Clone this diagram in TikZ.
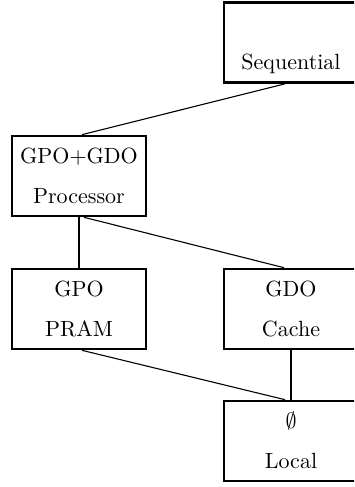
\documentclass[tikz,border=0pt]{standalone}
\usetikzlibrary{calc}
\begin{document}
\begin{tikzpicture}[x=0.4545pt,y=-0.4545pt,
  box/.style={draw,line width=1.2pt,minimum width=60.9pt,minimum height=36.36pt,inner sep=0pt},
  lbl/.style={anchor=base,inner sep=0pt,font=\fontsize{10}{12}\selectfont},
  thin/.style={line width=0.5pt},
  thickln/.style={line width=1.2pt}]
\useasboundingbox (0,0) rectangle (354,487);
\clip (0,0) rectangle (354,487);
\node[box] (seq) at (291,42.5) {};
\node[box] (pg) at (79,176) {};
\node[box] (gpo) at (79,309) {};
\node[box] (gdo) at (291,309) {};
\node[box] (loc) at (291,441) {};
% labels
\node[lbl] (seqB) at ($(seq.center)+(0,27.5)$) {Sequential};
\node[lbl] (pgA) at ($(pg.center)+(0,-12.5)$) {GPO+GDO};
\node[lbl] (pgB) at ($(pg.center)+(0,27.5)$) {Processor};
\node[lbl] (gpoA) at ($(gpo.center)+(0,-12.5)$) {GPO};
\node[lbl] (gpoB) at ($(gpo.center)+(0,27.5)$) {PRAM};
\node[lbl] (gdoA) at ($(gdo.center)+(0,-12.5)$) {GDO};
\node[lbl] (gdoB) at ($(gdo.center)+(0,27.5)$) {Cache};
\node[lbl] (locA) at ($(loc.center)+(0,-12.5)$) {$\emptyset$};
\node[lbl] (locB) at ($(loc.center)+(0,27.5)$) {Local};
% connectors
\draw[thin] ($(seq.south)+(-6,0)$) -- ($(pg.north)+(3,0)$);
\draw[thickln] (pg.south) -- (gpo.north);
\draw[thin] ($(pg.south)+(5,0)$) -- ($(gdo.north)+(-7,0)$);
\draw[thin] ($(gpo.south)+(3,0)$) -- ($(loc.north)+(-6,0)$);
\draw[thickln] (gdo.south) -- (loc.north);
\end{tikzpicture}
\end{document}
